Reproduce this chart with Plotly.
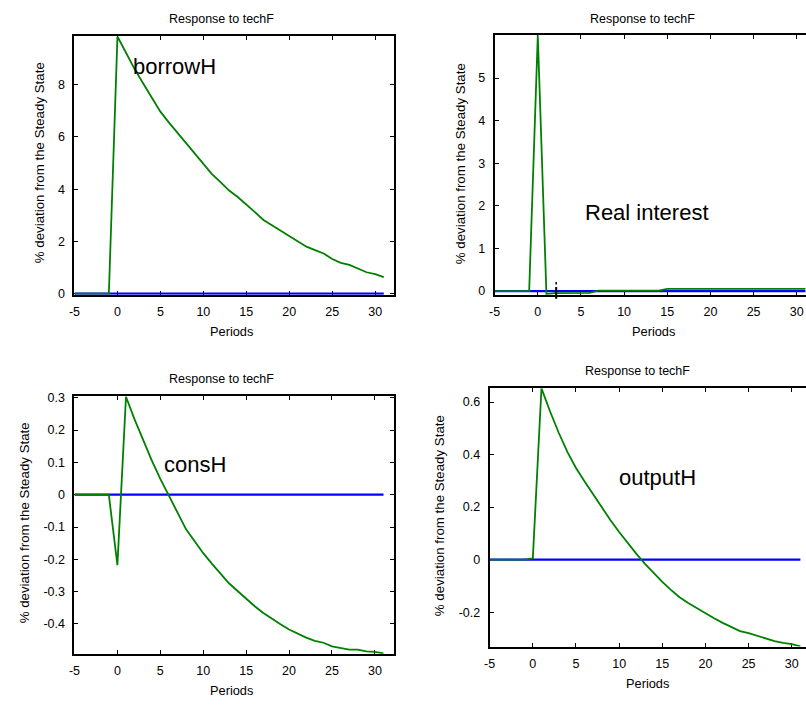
import plotly.graph_objects as go

W, H = 806, 706

# Impulse responses to a foreign technology shock (techF), periods -5..31
periods = list(range(-5, 32))
borrow_h = [0, 0, 0, 0, 0,
            9.85, 9.23, 8.6, 8.05, 7.5, 6.97, 6.55, 6.15, 5.78, 5.38, 4.95,
            4.58, 4.27, 3.95, 3.7, 3.42, 3.12, 2.82, 2.62, 2.4, 2.2, 1.99,
            1.8, 1.67, 1.54, 1.33, 1.18, 1.1, 0.96, 0.82, 0.75, 0.63]
real_interest = [0, 0, 0, 0, 0,
                 6.0, -0.07, -0.05, -0.05, -0.05, -0.05, -0.04, 0.01, 0.01,
                 0.01, 0.01, 0.01, 0.01, 0.01, 0.01, 0.05, 0.05, 0.05, 0.05,
                 0.05, 0.05, 0.05, 0.05, 0.05, 0.05, 0.05, 0.05, 0.05, 0.05,
                 0.05, 0.05, 0.05]
cons_h = [0, 0, 0, 0, 0,
          -0.218, 0.303, 0.233, 0.168, 0.106, 0.049, -0.003, -0.055, -0.107,
          -0.144, -0.181, -0.213, -0.245, -0.274, -0.298, -0.322, -0.345,
          -0.366, -0.384, -0.401, -0.417, -0.43, -0.442, -0.452, -0.458,
          -0.469, -0.475, -0.479, -0.479, -0.485, -0.486, -0.491]
output_h = [0, 0, 0, 0, 0,
            0.005, 0.652, 0.564, 0.483, 0.41, 0.349, 0.297, 0.248, 0.197,
            0.15, 0.105, 0.062, 0.022, -0.016, -0.052, -0.085, -0.115, -0.143,
            -0.165, -0.185, -0.203, -0.223, -0.241, -0.258, -0.272, -0.28,
            -0.29, -0.299, -0.31, -0.317, -0.322, -0.33]
steady_state = [0] * len(periods)

x_ticks = [-5, 0, 5, 10, 15, 20, 25, 30]
x_ticktext = ["-5", "0", "5", "10", "15", "20", "25", "30"]
y_ticks_borrow = [0, 2, 4, 6, 8]
y_ticks_rate = [0, 1, 2, 3, 4, 5]
y_ticks_cons = [-0.4, -0.3, -0.2, -0.1, 0, 0.1, 0.2, 0.3]
y_ticks_output = [-0.2, 0, 0.2, 0.4, 0.6]

FONT = "Arial, Liberation Sans, sans-serif"
GREEN = "#008000"
BLUE = "#0000ff"


def fx(px):
    return px / W


def fy(py):
    return 1 - py / H


def fmt(v):
    return "%g" % v


panels = [
    dict(label="borrowH", data=borrow_h, xp=(69, 391), yp=(31.7, 294.3),
         xr=[-5, 32.2], yr=[-0.04, 9.86], yt=y_ticks_borrow,
         lab=(169.5, 62.7), title=(217, 14), xt=(226.7, 331.7), yti=(33.3, 160.7),
         right=True),
    dict(label="Real interest", data=real_interest, xp=(492.3, 806), yp=(30, 294.3),
         xr=[-5, 31.07], yr=[-0.085, 6.02], yt=y_ticks_rate,
         lab=(646.3, 210.7), title=(641.7, 14), xt=(652.5, 331.7), yti=(457.3, 160.8),
         right=False),
    dict(label="consH", data=cons_h, xp=(69, 390.7), yp=(397.3, 659),
         xr=[-5, 32.2], yr=[-0.492, 0.305], yt=y_ticks_cons,
         lab=(190, 466.7), title=(217.5, 380), xt=(226.7, 696.7), yti=(19, 525.7),
         right=True),
    dict(label="outputH", data=output_h, xp=(487.3, 806), yp=(389.3, 651.7),
         xr=[-5, 31.65], yr=[-0.331, 0.6525], yt=y_ticks_output,
         lab=(656.7, 480), title=(636, 372.3), xt=(646.7, 689.3), yti=(436.7, 518.8),
         right=False),
]

fig = go.Figure()
annotations = []
layout = dict(
    width=W, height=H, autosize=False,
    margin=dict(l=0, r=0, t=0, b=0),
    paper_bgcolor="white", plot_bgcolor="white",
    showlegend=False,
)

for i, p in enumerate(panels, start=1):
    xa = "x" if i == 1 else f"x{i}"
    ya = "y" if i == 1 else f"y{i}"
    fig.add_trace(go.Scatter(x=periods, y=steady_state, mode="lines",
                             line=dict(color=BLUE, width=2.2),
                             xaxis=xa, yaxis=ya, hoverinfo="skip"))
    fig.add_trace(go.Scatter(x=periods, y=p["data"], mode="lines",
                             line=dict(color=GREEN, width=1.8),
                             xaxis=xa, yaxis=ya, hoverinfo="skip"))
    common = dict(showline=True, linecolor="black", linewidth=2,
                  ticks="inside", ticklen=4, tickwidth=1.3, tickcolor="black",
                  showgrid=False, zeroline=False, layer="below traces",
                  tickfont=dict(family=FONT, size=12.5, color="black"),
                  fixedrange=True)
    layout["xaxis" if i == 1 else f"xaxis{i}"] = dict(
        common, domain=[fx(p["xp"][0]), min(1.0, fx(p["xp"][1]))],
        range=p["xr"], anchor=ya, tickvals=x_ticks, ticktext=x_ticktext,
        mirror="allticks", ticklabelstandoff=4)
    layout["yaxis" if i == 1 else f"yaxis{i}"] = dict(
        common, domain=[fy(p["yp"][1]), fy(p["yp"][0])],
        range=p["yr"], anchor=xa, tickvals=p["yt"],
        ticktext=[fmt(v) for v in p["yt"]],
        mirror="allticks" if p["right"] else False, ticklabelstandoff=5)

    annotations.append(dict(text="Response to techF", x=fx(p["title"][0]), y=fy(p["title"][1]),
                            xref="paper", yref="paper", showarrow=False,
                            xanchor="center", yanchor="middle",
                            font=dict(family=FONT, size=12.5, color="black")))
    annotations.append(dict(text="Periods", x=fx(p["xt"][0]), y=fy(p["xt"][1]),
                            xref="paper", yref="paper", showarrow=False,
                            xanchor="center", yanchor="middle",
                            font=dict(family=FONT, size=12.8, color="black")))
    annotations.append(dict(text="% deviation from the Steady State",
                            x=fx(p["yti"][0]), y=fy(p["yti"][1]),
                            xref="paper", yref="paper", showarrow=False,
                            textangle=-90, xanchor="center", yanchor="middle",
                            font=dict(family=FONT, size=13.3, color="black")))
    annotations.append(dict(text=p["label"], x=fx(p["lab"][0]), y=fy(p["lab"][1]),
                            xref="paper", yref="paper", showarrow=False,
                            xanchor="center", yanchor="middle",
                            font=dict(family=FONT, size=22, color="black")))

layout["annotations"] = annotations
# small I-beam cursor resting on the interest-rate axis
layout["shapes"] = [
    dict(type="line", xref="paper", yref="paper",
         x0=fx(554.3), x1=fx(554.3), y0=fy(286.5), y1=fy(298.5),
         line=dict(color="black", width=2)),
    dict(type="line", xref="paper", yref="paper",
         x0=fx(554.3), x1=fx(554.3), y0=fy(281.5), y1=fy(284),
         line=dict(color="black", width=1.5)),
]
fig.update_layout(**layout)
fig.write_html("out.html")
